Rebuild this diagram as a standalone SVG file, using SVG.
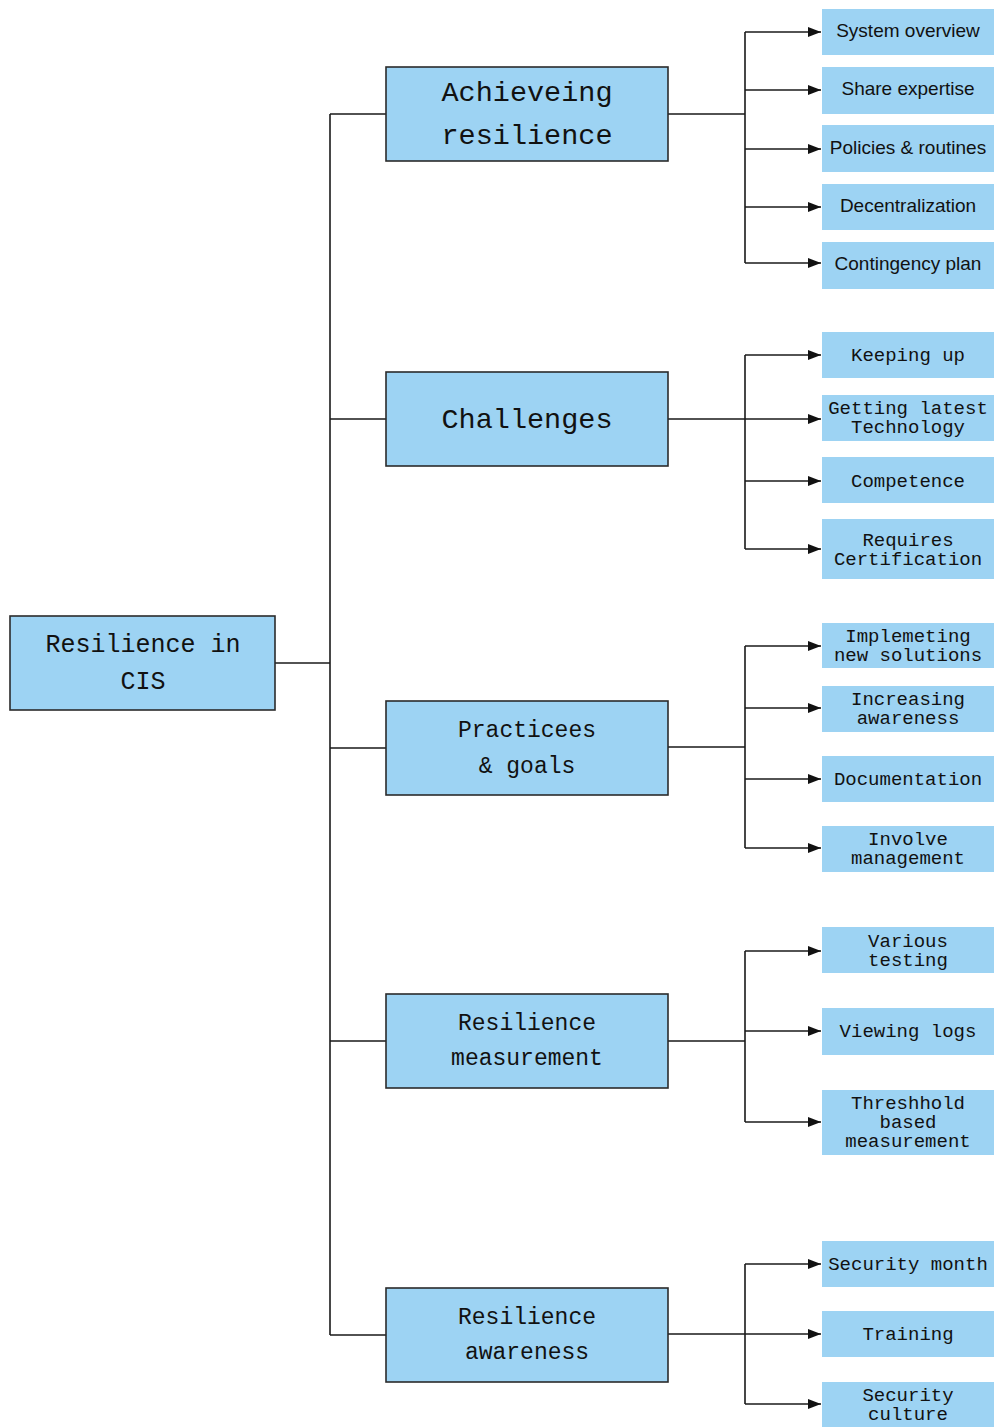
<svg xmlns="http://www.w3.org/2000/svg" width="1001" height="1428" viewBox="0 0 1001 1428">
  <style>
    .node { fill: #9dd3f3; stroke: #2b2b2b; stroke-width: 1.6; }
    .leaf { fill: #9dd3f3; stroke: none; }
    .t { fill: #111; text-anchor: middle; dominant-baseline: central; }
    .mono { font-family: "Liberation Mono", "DejaVu Sans Mono", monospace; }
    .sans { font-family: "Liberation Sans", Arial, sans-serif; font-size: 19px; }
    .big { font-size: 28.5px; }
    .mid { font-size: 23px; }
    .root { font-size: 25px; }
    .small { font-size: 19px; }
    .wire { fill: none; stroke: #1a1a1a; stroke-width: 1.6; }
    .arrow { fill: none; stroke: #1a1a1a; stroke-width: 1.6; marker-end: url(#head); }
  </style>
  <defs>
    <marker id="head" markerUnits="userSpaceOnUse" markerWidth="14" markerHeight="10" refX="13" refY="5" orient="auto">
      <path d="M0,0 L13,5 L0,10 Z" fill="#111"/>
    </marker>
  </defs>
  <rect width="1001" height="1428" fill="#fff"/>

  <!-- connectors -->
  <g id="connectors">
    <!-- root to trunk -->
    <path class="wire" d="M275,663 H330"/>
    <path class="wire" d="M330,114 V1335"/>
    <path class="wire" d="M330,114 H386 M330,419 H386 M330,748 H386 M330,1041 H386 M330,1335 H386"/>

    <!-- branch 1 -->
    <path class="wire" d="M668,114 H745 M745,32 V263"/>
    <path class="arrow" d="M745,32 H821"/>
    <path class="arrow" d="M745,90 H821"/>
    <path class="arrow" d="M745,149 H821"/>
    <path class="arrow" d="M745,207 H821"/>
    <path class="arrow" d="M745,263 H821"/>

    <!-- branch 2 -->
    <path class="wire" d="M668,419 H745 M745,355 V549"/>
    <path class="arrow" d="M745,355 H821"/>
    <path class="arrow" d="M745,419 H821"/>
    <path class="arrow" d="M745,481 H821"/>
    <path class="arrow" d="M745,549 H821"/>

    <!-- branch 3 -->
    <path class="wire" d="M668,747 H745 M745,646 V848"/>
    <path class="arrow" d="M745,646 H821"/>
    <path class="arrow" d="M745,708 H821"/>
    <path class="arrow" d="M745,779 H821"/>
    <path class="arrow" d="M745,848 H821"/>

    <!-- branch 4 -->
    <path class="wire" d="M668,1041 H745 M745,951 V1122"/>
    <path class="arrow" d="M745,951 H821"/>
    <path class="arrow" d="M745,1031 H821"/>
    <path class="arrow" d="M745,1122 H821"/>

    <!-- branch 5 -->
    <path class="wire" d="M668,1334 H745 M745,1264 V1404"/>
    <path class="arrow" d="M745,1264 H821"/>
    <path class="arrow" d="M745,1334 H821"/>
    <path class="arrow" d="M745,1404 H821"/>
  </g>

  <!-- root -->
  <g id="root">
    <rect class="node" x="10" y="616" width="265" height="94"/>
    <text class="t mono root" x="143" y="645">Resilience in</text>
    <text class="t mono root" x="143" y="682">CIS</text>
  </g>

  <!-- second level -->
  <g id="achieving">
    <rect class="node" x="386" y="67" width="282" height="94"/>
    <text class="t mono big" x="527" y="93">Achieveing</text>
    <text class="t mono big" x="527" y="136">resilience</text>
  </g>
  <g id="challenges">
    <rect class="node" x="386" y="372" width="282" height="94"/>
    <text class="t mono big" x="527" y="420">Challenges</text>
  </g>
  <g id="practices">
    <rect class="node" x="386" y="701" width="282" height="94"/>
    <text class="t mono mid" x="527" y="731">Practicees</text>
    <text class="t mono mid" x="527" y="767">&amp; goals</text>
  </g>
  <g id="measurement">
    <rect class="node" x="386" y="994" width="282" height="94"/>
    <text class="t mono mid" x="527" y="1024">Resilience</text>
    <text class="t mono mid" x="527" y="1059">measurement</text>
  </g>
  <g id="awareness">
    <rect class="node" x="386" y="1288" width="282" height="94"/>
    <text class="t mono mid" x="527" y="1318">Resilience</text>
    <text class="t mono mid" x="527" y="1353">awareness</text>
  </g>

  <!-- leaves: achieving resilience -->
  <g id="system-overview">
    <rect class="leaf" x="822" y="9" width="172" height="46"/>
    <text class="t sans" x="908" y="30">System overview</text>
  </g>
  <g id="share-expertise">
    <rect class="leaf" x="822" y="67" width="172" height="47"/>
    <text class="t sans" x="908" y="88">Share expertise</text>
  </g>
  <g id="policies">
    <rect class="leaf" x="822" y="125" width="172" height="47"/>
    <text class="t sans" x="908" y="147">Policies &amp; routines</text>
  </g>
  <g id="decentralization">
    <rect class="leaf" x="822" y="184" width="172" height="46"/>
    <text class="t sans" x="908" y="205">Decentralization</text>
  </g>
  <g id="contingency">
    <rect class="leaf" x="822" y="242" width="172" height="47"/>
    <text class="t sans" x="908" y="263">Contingency plan</text>
  </g>

  <!-- leaves: challenges -->
  <g id="keeping-up">
    <rect class="leaf" x="822" y="332" width="172" height="46"/>
    <text class="t mono small" x="908" y="356">Keeping up</text>
  </g>
  <g id="latest-tech">
    <rect class="leaf" x="822" y="395" width="172" height="46"/>
    <text class="t mono small" x="908" y="409">Getting latest</text>
    <text class="t mono small" x="908" y="428">Technology</text>
  </g>
  <g id="competence">
    <rect class="leaf" x="822" y="457" width="172" height="46"/>
    <text class="t mono small" x="908" y="482">Competence</text>
  </g>
  <g id="certification">
    <rect class="leaf" x="822" y="519" width="172" height="60"/>
    <text class="t mono small" x="908" y="541">Requires</text>
    <text class="t mono small" x="908" y="560">Certification</text>
  </g>

  <!-- leaves: practices & goals -->
  <g id="new-solutions">
    <rect class="leaf" x="822" y="623" width="172" height="45"/>
    <text class="t mono small" x="908" y="637">Implemeting</text>
    <text class="t mono small" x="908" y="656">new solutions</text>
  </g>
  <g id="increasing-awareness">
    <rect class="leaf" x="822" y="686" width="172" height="46"/>
    <text class="t mono small" x="908" y="700">Increasing</text>
    <text class="t mono small" x="908" y="719">awareness</text>
  </g>
  <g id="documentation">
    <rect class="leaf" x="822" y="756" width="172" height="46"/>
    <text class="t mono small" x="908" y="780">Documentation</text>
  </g>
  <g id="involve-management">
    <rect class="leaf" x="822" y="826" width="172" height="46"/>
    <text class="t mono small" x="908" y="840">Involve</text>
    <text class="t mono small" x="908" y="859">management</text>
  </g>

  <!-- leaves: resilience measurement -->
  <g id="various-testing">
    <rect class="leaf" x="822" y="927" width="172" height="46"/>
    <text class="t mono small" x="908" y="942">Various</text>
    <text class="t mono small" x="908" y="961">testing</text>
  </g>
  <g id="viewing-logs">
    <rect class="leaf" x="822" y="1008" width="172" height="47"/>
    <text class="t mono small" x="908" y="1032">Viewing logs</text>
  </g>
  <g id="threshold">
    <rect class="leaf" x="822" y="1090" width="172" height="65"/>
    <text class="t mono small" x="908" y="1104">Threshhold</text>
    <text class="t mono small" x="908" y="1123">based</text>
    <text class="t mono small" x="908" y="1142">measurement</text>
  </g>

  <!-- leaves: resilience awareness -->
  <g id="security-month">
    <rect class="leaf" x="822" y="1241" width="172" height="46"/>
    <text class="t mono small" x="908" y="1265">Security month</text>
  </g>
  <g id="training">
    <rect class="leaf" x="822" y="1311" width="172" height="46"/>
    <text class="t mono small" x="908" y="1335">Training</text>
  </g>
  <g id="security-culture">
    <rect class="leaf" x="822" y="1382" width="172" height="45"/>
    <text class="t mono small" x="908" y="1396">Security</text>
    <text class="t mono small" x="908" y="1415">culture</text>
  </g>
</svg>
